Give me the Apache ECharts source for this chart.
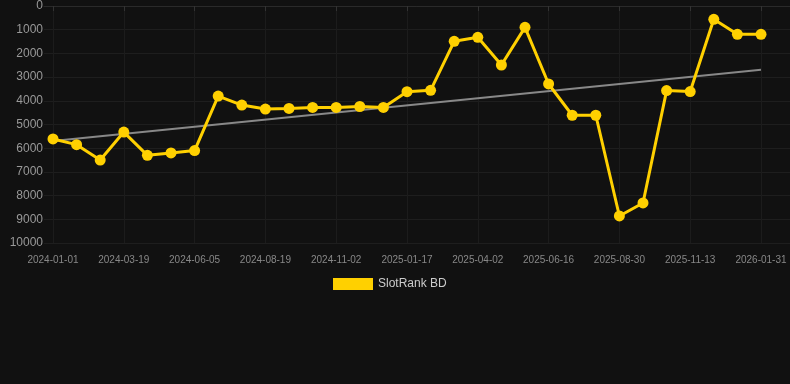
<!DOCTYPE html>
<html>
<head>
<meta charset="utf-8">
<style>
html,body{margin:0;padding:0;background:#111111;}
#c{width:790px;height:384px;}
</style>
<script src="https://cdn.jsdelivr.net/npm/echarts@6/dist/echarts.min.js"></script>
</head>
<body>
<div id="c"></div>
<script>
var categories = [
  '2024-01-01','2024-01-27','2024-02-22','2024-03-19','2024-04-14','2024-05-10','2024-06-05',
  '2024-06-30','2024-07-25','2024-08-19','2024-09-13','2024-10-08','2024-11-02','2024-11-27',
  '2024-12-23','2025-01-17','2025-02-11','2025-03-08','2025-04-02','2025-04-27','2025-05-22',
  '2025-06-16','2025-07-11','2025-08-05','2025-08-30','2025-09-24','2025-10-19','2025-11-13',
  '2025-12-09','2026-01-05','2026-01-31'
];
var rankValues = [
  5610, 5850, 6500, 5320, 6300, 6200, 6100,
  3800, 4180, 4350, 4320, 4280, 4280, 4240,
  4280, 3615, 3560, 1490, 1320, 2490, 900,
  3290, 4610, 4610, 8860, 8310, 3570, 3610,
  560, 1195, 1195
];
var trendValues = [[0, 5700], [30, 2690]];
var yTicks = [0, 1000, 2000, 3000, 4000, 5000, 6000, 7000, 8000, 9000, 10000];

var FONT = 'Liberation Sans';
var chart = echarts.init(document.getElementById('c'), null, {renderer: 'canvas'});
chart.setOption({
  backgroundColor: '#111111',
  animation: false,
  textStyle: {fontFamily: FONT},
  legend: {
    data: ['SlotRank BD'],
    left: 328,
    top: 273,
    icon: 'rect',
    itemWidth: 40,
    itemHeight: 12,
    itemGap: 6,
    textStyle: {color: '#cccccc', fontSize: 12, fontFamily: FONT}
  },
  grid: [
    {left: 44, right: 0, top: 6, bottom: 141},
    {left: 53, right: 29, top: 6, bottom: 141}
  ],
  xAxis: [
    {
      gridIndex: 0, type: 'value', min: 0, max: 1,
      axisLine: {show: true, lineStyle: {color: '#2a2a2a'}},
      axisTick: {show: false}, axisLabel: {show: false}, splitLine: {show: false}
    },
    {
      gridIndex: 1, type: 'category', data: categories, boundaryGap: false,
      axisLine: {show: false},
      axisTick: {show: true, interval: 2, length: 5, lineStyle: {color: '#333333'}},
      axisLabel: {interval: 2, color: '#888888', fontSize: 10, margin: 12, fontFamily: FONT},
      splitLine: {show: true, interval: 2, lineStyle: {color: '#1c1c1c', width: 1}}
    }
  ],
  yAxis: [
    {
      gridIndex: 0, type: 'value', inverse: true, min: yTicks[0], max: yTicks[yTicks.length - 1], interval: 1000,
      axisLine: {show: false}, axisTick: {show: false},
      axisLabel: {color: '#999999', fontSize: 12, margin: 1, fontFamily: FONT,
        formatter: function (v) { return String(v); }},
      splitLine: {show: true, lineStyle: {color: '#1e1e1e', width: 1}}
    },
    {
      gridIndex: 1, type: 'value', inverse: true, min: yTicks[0], max: yTicks[yTicks.length - 1], interval: 1000,
      axisLine: {show: false}, axisTick: {show: false}, axisLabel: {show: false}, splitLine: {show: false}
    }
  ],
  series: [
    {
      name: 'Trend', type: 'line', xAxisIndex: 1, yAxisIndex: 1,
      data: trendValues, symbol: 'none', z: 1,
      lineStyle: {color: '#888888', width: 2}
    },
    {
      name: 'SlotRank BD', type: 'line', xAxisIndex: 1, yAxisIndex: 1,
      data: rankValues, symbol: 'circle', symbolSize: 11, z: 3,
      itemStyle: {color: '#FFD000'},
      lineStyle: {color: '#FFD000', width: 3}
    }
  ]
});
</script>
</body>
</html>
